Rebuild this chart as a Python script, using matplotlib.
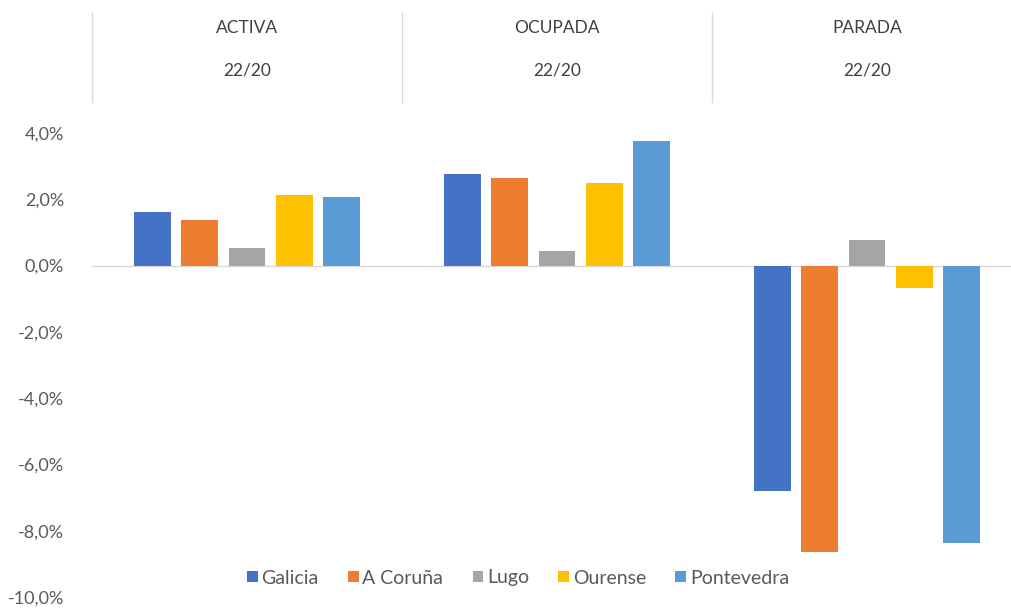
import matplotlib
matplotlib.use("Agg")
import matplotlib.pyplot as plt
import matplotlib.transforms as mtransforms
import numpy as np

plt.rcParams['font.family'] = ['Lato', 'DejaVu Sans']

categories = ["ACTIVA", "OCUPADA", "PARADA"]
subtitle = "22/20"
series = ["Galicia", "A Coruña", "Lugo", "Ourense", "Pontevedra"]
galicia = [1.63, 2.75, -6.80]
a_coruna = [1.39, 2.65, -8.65]
lugo = [0.54, 0.45, 0.76]
ourense = [2.14, 2.50, -0.68]
pontevedra = [2.08, 3.77, -8.38]
values = [galicia, a_coruna, lugo, ourense, pontevedra]
colors = ["#4472C4", "#ED7D31", "#A5A5A5", "#FFC000", "#5B9BD5"]
yticks = [4, 2, 0, -2, -4, -6, -8, -10]

W, H = 1012, 615
fig = plt.figure(figsize=(W / 100, H / 100), dpi=100)
ax = fig.add_axes([92 / W, 18 / H, 930 / W, 464 / H])

x = np.arange(len(categories))
pitch = 0.152
width = 0.119
for k, (name, vals, c) in enumerate(zip(series, values, colors)):
    ax.bar(x + (k - 2) * pitch, vals, width=width, color=c, label=name, zorder=3)

ax.set_xlim(-0.5, 2.5)
ax.set_ylim(-10, 4)
ax.axhline(0, color="#D9D9D9", lw=1.0, zorder=2, xmin=-0.005)
ax.set_yticks(yticks)
ax.set_yticklabels([f"{v:.1f}%".replace(".", ",") for v in yticks],
                   color="#595959", fontsize=13)
ax.tick_params(axis="y", length=0, pad=20)
ax.set_xticks([])
for s in ax.spines.values():
    s.set_visible(False)

# header
trans = mtransforms.blended_transform_factory(ax.transData, fig.transFigure)
for i, cat in enumerate(categories):
    ax.text(i, 1 - 28 / H, cat, transform=trans, ha="center", va="center",
            fontsize=12.5, color="#404040")
    ax.text(i, 1 - 70 / H, subtitle, transform=trans, ha="center", va="center",
            fontsize=12.5, color="#404040")
for b in [-0.5, 0.5, 1.5]:
    ax.plot([b, b], [1 - 13 / H, 1 - 102 / H], transform=trans, color="#D9D9D9",
            lw=1.0, clip_on=False)

leg = fig.legend(loc="center", bbox_to_anchor=(518 / W, 1 - 578 / H), ncol=5,
                 frameon=False, fontsize=14, handlelength=0.55, handleheight=0.55,
                 handletextpad=0.2, columnspacing=1.5)
for t in leg.get_texts():
    t.set_color("#595959")

fig.savefig("out.png", dpi=100, facecolor="white")
